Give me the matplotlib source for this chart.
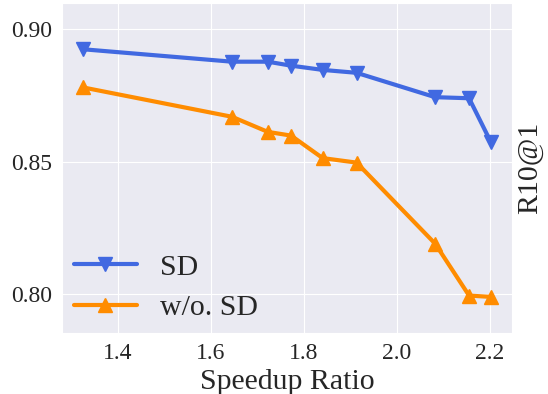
import matplotlib
matplotlib.use("Agg")
import matplotlib.pyplot as plt
import seaborn as sns

sns.set_style("darkgrid")
plt.rcParams['font.family'] = ['Liberation Serif', 'DejaVu Serif']

speedup = [1.325, 1.646, 1.723, 1.773, 1.841, 1.914, 2.083, 2.156, 2.203]
sd = [0.8925, 0.8878, 0.8878, 0.8863, 0.8847, 0.8836, 0.8744, 0.8740, 0.8574]
wo_sd = [0.8781, 0.8670, 0.8613, 0.8599, 0.8514, 0.8497, 0.8191, 0.7995, 0.7990]

fig, ax = plt.subplots(figsize=(5.48, 3.94), dpi=100)
ax.plot(speedup, sd, color='royalblue', marker='v', markersize=10, linewidth=3, label='SD')
ax.plot(speedup, wo_sd, color='darkorange', marker='^', markersize=10, linewidth=3, label='w/o. SD')

ax.set_xlim(1.28, 2.248)
ax.set_ylim(0.7854, 0.9099)
ax.set_xticks([1.4, 1.6, 1.8, 2.0, 2.2])
ax.set_yticks([0.80, 0.85, 0.90])
ax.set_yticklabels(['0.80', '0.85', '0.90'])
ax.tick_params(labelsize=17)

ax.set_xlabel('Speedup Ratio', fontsize=21.5)
ax.set_ylabel('R10@1', fontsize=21.5)
ax.yaxis.set_label_position('right')

ax.legend(loc='lower left', bbox_to_anchor=(0.0, 0.0), borderaxespad=0,
          fontsize=21.5, frameon=False, handlelength=2.1, labelspacing=0.45)

fig.subplots_adjust(left=0.113, right=0.934, top=0.992, bottom=0.155)
fig.savefig('out.png', dpi=100)
